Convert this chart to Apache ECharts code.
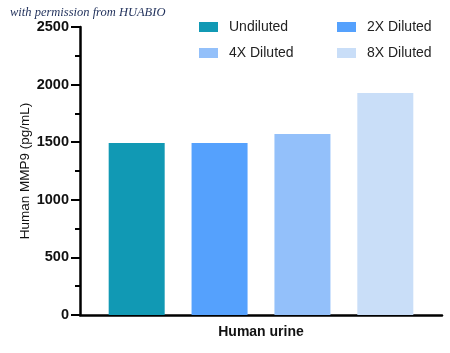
<!DOCTYPE html>
<html><head><meta charset="utf-8">
<script src="https://cdn.jsdelivr.net/npm/echarts@6/dist/echarts.min.js"></script>
<style>html,body{margin:0;padding:0;background:#fff}#c{width:450px;height:353px}</style>
</head><body><div id="c"></div>
<script>
var categories = ['Human urine'];
var seriesNames = ['Undiluted', '2X Diluted', '4X Diluted', '8X Diluted'];
var seriesValues = [1493, 1493, 1572, 1927];
var seriesColors = ['#1199B4', '#55A1FD', '#93C0FA', '#C9DEF8'];
var yTicks = [0, 500, 1000, 1500, 2000, 2500];

var chart = echarts.init(document.getElementById('c'));
var series = seriesNames.map(function (n, i) {
  return {
    name: n, type: 'bar', data: [seriesValues[i]],
    barWidth: 56, barGap: '48%',
    itemStyle: { color: seriesColors[i] }
  };
});
var legendCommon = {
  orient: 'vertical', itemWidth: 19, itemHeight: 10, itemGap: 12,
  icon: 'rect',
  textStyle: { fontFamily: 'Liberation Sans', fontSize: 14, color: '#222', padding: [0, 0, 0, 6] }
};
chart.setOption({
  animation: false,
  graphic: [{
    type: 'text', left: 10, top: 6,
    style: { text: 'with permission from HUABIO', fill: '#1f2f5a',
      font: 'italic 12.5px "Liberation Serif"' }
  }],
  legend: [
    Object.assign({ left: 194, top: 15, data: [seriesNames[0], seriesNames[2]] }, legendCommon),
    Object.assign({ left: 332, top: 15, data: [seriesNames[1], seriesNames[3]] }, legendCommon)
  ],
  grid: { left: 80, right: 8, top: 27, bottom: 38 },
  xAxis: {
    type: 'category', data: categories,
    name: categories[0], nameLocation: 'middle', nameGap: 10, nameMoveOverlap: false,
    nameTextStyle: { fontFamily: 'Liberation Sans', fontWeight: 'bold', fontSize: 14, color: '#111' },
    axisLine: { lineStyle: { color: '#000', width: 2.5 } },
    axisTick: { show: false }, axisLabel: { show: false }
  },
  yAxis: {
    type: 'value', min: yTicks[0], max: yTicks[yTicks.length - 1], interval: 500,
    name: 'Human MMP9 (pg/mL)', nameLocation: 'middle', nameGap: 48, nameMoveOverlap: false,
    nameTextStyle: { fontFamily: 'Liberation Sans', fontSize: 13.5, color: '#111' },
    axisLine: { show: true, lineStyle: { color: '#000', width: 2.5 } },
    axisTick: { show: true, length: 9, lineStyle: { color: '#000', width: 2 } },
    minorTick: { show: true, splitNumber: 2, length: 5, lineStyle: { color: '#000', width: 2 } },
    axisLabel: { fontFamily: 'Liberation Sans', fontWeight: 'bold', fontSize: 14.5, color: '#111', margin: 11,
      formatter: function (v) { return String(v); } },
    splitLine: { show: false }
  },
  series: series
});
</script></body></html>
